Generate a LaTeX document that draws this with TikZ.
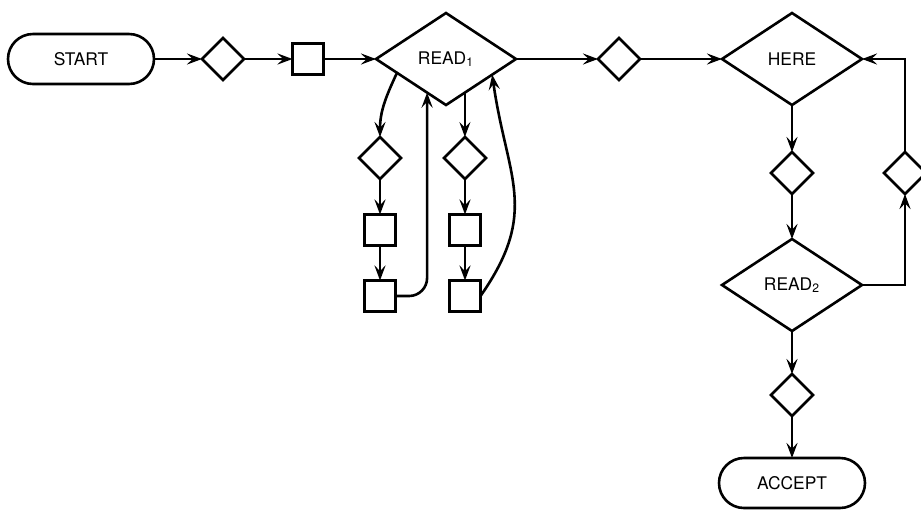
\documentclass[tikz,border=0pt]{standalone}
\usepackage{fontspec}
\setmainfont{TeX Gyre Heros}
\usetikzlibrary{calc,shapes.geometric,arrows.meta}

\begin{document}
\begin{tikzpicture}[x=0.5pt,y=-0.5pt,line width=1.3pt,
    every node/.style={draw,inner sep=0pt,outer sep=0pt,font=\fontsize{8.7}{10}\selectfont},
    term/.style={rectangle,rounded corners=12.5pt,minimum width=73pt,minimum height=25pt},
    test/.style={diamond,minimum width=21pt,minimum height=21pt},
    bigtest/.style={diamond,minimum width=70pt,minimum height=46pt},
    box/.style={rectangle,minimum size=15.5pt},
    >={Stealth[length=7.5pt,width=5.5pt,inset=2.8pt]}]
    \useasboundingbox (0,0) rectangle (921,510);
    \clip (0,0) rectangle (921,510);

    \node[term] (start) at (81,59) {START};
    \node[test] (t1) at (223,59) {};
    \node[box] (b1) at (308,59) {};
    \node[bigtest] (read1) at (446,59) {READ\textsubscript{1}};
    \node[test] (tl) at (380,158) {};
    \node[box] (bl1) at (380,230) {};
    \node[box] (bl2) at (380,296) {};
    \node[test] (tr) at (465,158) {};
    \node[box] (br1) at (465,230) {};
    \node[box] (br2) at (465,296) {};
    \node[test] (t3) at (619,59) {};
    \node[bigtest] (here) at (792,59) {HERE};
    \node[test] (t4) at (792,173) {};
    \node[bigtest] (read2) at (792,285) {READ\textsubscript{2}};
    \node[test] (t5) at (905,173) {};
    \node[test] (t6) at (792,395) {};
    \node[term] (accept) at (792,483) {ACCEPT};

    \coordinate (lout) at ($(read1.west)!0.3!(read1.south)$);
    \coordinate (lin) at ($(read1.west)!0.73!(read1.south)$);
    \coordinate (rout) at ($(read1.south)!0.27!(read1.east)$);
    \coordinate (rin) at ($(read1.south)!0.66!(read1.east)$);

    \draw[->] (start) -- (t1);
    \draw[->] (t1) -- (b1);
    \draw[->] (b1) -- (read1);
    \draw[->] (read1) -- (t3);
    \draw[->] (t3) -- (here);

    \draw[->] (lout) to[out=-115,in=90] (tl.north);
    \draw[->] (tl) -- (bl1);
    \draw[->] (bl1) -- (bl2);
    \draw[->,rounded corners=9pt] (bl2.east) -| (lin);

    \draw[->] (rout) -- (rout |- tr.north);
    \draw[->] (tr) -- (br1);
    \draw[->] (br1) -- (br2);
    \draw[->] (br2.east) to[out=55,in=-82,looseness=1.2] (rin);

    \draw[->] (here) -- (t4);
    \draw[->] (t4) -- (read2);
    \draw[->] (read2.east) -| (t5.south);
    \draw[->] (t5.north) |- (here.east);
    \draw[->] (read2) -- (t6);
    \draw[->] (t6) -- (accept);
\end{tikzpicture}
\end{document}
